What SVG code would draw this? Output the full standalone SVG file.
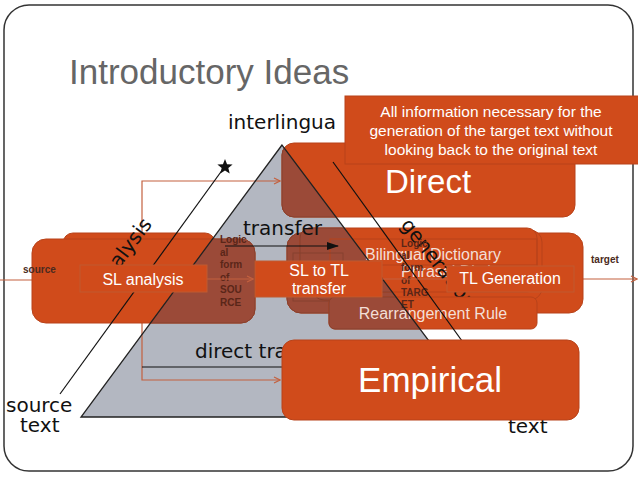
<svg xmlns="http://www.w3.org/2000/svg" width="638" height="479" viewBox="0 0 638 479">
<style>
.dv{font-family:"DejaVu Sans",sans-serif;font-size:20px;fill:#111}
.ls{font-family:"Liberation Sans",Arial,sans-serif}
.or{fill:#D04B1B;stroke:#B8431A;stroke-width:1}
.br{fill:#9B4A38;stroke:#86412F;stroke-width:1}
.wt{font-family:"Liberation Sans",Arial,sans-serif;fill:#fff;text-anchor:middle}
.lt{font-family:"Liberation Sans",Arial,sans-serif;fill:#F3DFD7;text-anchor:middle;font-size:16px}
.lg{font-family:"Liberation Sans",Arial,sans-serif;font-weight:bold;font-size:10px;fill:#5A2618}
.oline{fill:none;stroke:#C4613F;stroke-width:1.2}
.bline{fill:none;stroke:#111;stroke-width:1.2}
</style>
<defs>
<clipPath id="triClip"><polygon points="282,145 81,417 486,417"/></clipPath>
<marker id="chev" viewBox="0 0 8 8" refX="7" refY="4" markerWidth="8" markerHeight="8" orient="auto" markerUnits="userSpaceOnUse"><path d="M1,1 L7,4 L1,7" fill="none" stroke="#C4613F" stroke-width="1.2"/></marker>
<marker id="blk" viewBox="0 0 12 8" refX="11" refY="4" markerWidth="12" markerHeight="8" orient="auto" markerUnits="userSpaceOnUse"><path d="M0,0 L12,4 L0,8 z" fill="#111"/></marker>
</defs>

<rect x="4" y="5" width="629" height="466" rx="25" fill="#fff" stroke="#333" stroke-width="1.5"/>
<text class="ls" x="69" y="84" font-size="35" fill="#666">Introductory Ideas</text>
<text class="dv" x="228" y="129">interlingua</text>
<text class="dv" x="6" y="412">source</text>
<text class="dv" x="20" y="432">text</text>
<text class="dv" x="508" y="433">text</text>

<polygon id="triangle-fill" points="282,145 81,417 486,417" fill="#B3B7C1"/>

<g id="connectors-under">
<path class="oline" d="M142,237 V181 H280" marker-end="url(#chev)"/>
<path class="oline" d="M142,323 V380 H280" marker-end="url(#chev)"/>
<path class="oline" d="M0,280 H68" marker-end="url(#chev)"/>
<path class="oline" d="M574,279 H637" marker-end="url(#chev)"/>
</g>

<g id="node-direct">
<rect class="or" x="282" y="143" width="293" height="74" rx="12"/>
<rect class="br" x="282" y="143" width="293" height="74" rx="12" clip-path="url(#triClip)"/>
<text class="wt" x="428" y="193" font-size="33">Direct</text>
</g>
<g id="node-analysis-box">
<rect class="or" x="63" y="233" width="152" height="70" rx="10"/>
<rect class="br" x="63" y="233" width="152" height="70" rx="10" clip-path="url(#triClip)"/>
<rect class="or" x="32" y="239" width="223" height="84" rx="14"/>
<rect class="br" x="32" y="239" width="223" height="84" rx="14" clip-path="url(#triClip)"/>
</g>
<g id="node-transfer-box">
<rect class="or" x="287" y="233" width="225" height="80" rx="14"/>
<rect class="br" x="287" y="233" width="225" height="80" rx="14" clip-path="url(#triClip)"/>
</g>
<g id="node-generation-box">
<rect class="or" x="358" y="233" width="225" height="80" rx="14"/>
<rect class="br" x="358" y="233" width="225" height="80" rx="14" clip-path="url(#triClip)"/>
</g>
<g id="node-bilingual">
<rect class="or" x="312" y="230" width="230" height="70" rx="12"/>
<rect class="br" x="312" y="230" width="230" height="70" rx="12" clip-path="url(#triClip)"/>
<rect class="or" x="300" y="228" width="237" height="64" rx="10"/>
<rect class="br" x="300" y="228" width="237" height="64" rx="10" clip-path="url(#triClip)"/>
<rect x="330" y="239" width="207" height="26" fill="none" stroke="#B8431A" stroke-width="1"/>
<rect x="293" y="253" width="50" height="48" fill="none" stroke="#86412F" stroke-width="1" clip-path="url(#triClip)"/>
<text class="lt" x="433" y="260">Bilingual Dictionary</text>
<text class="lt" x="401" y="277" style="text-anchor:start">Phrasal Dictionary</text>
</g>

<g id="logical-source" class="lg">
<text x="220" y="243">Logic</text>
<text x="220" y="255.5">al</text>
<text x="220" y="268">form</text>
<text x="220" y="280.5">of</text>
<text x="220" y="293">SOU</text>
<text x="220" y="305.5">RCE</text>
</g>

<text class="dv" transform="translate(104,289) rotate(-53)">analysis</text>
<text class="dv" x="243" y="235">transfer</text>
<path class="bline" d="M225,246 H338" marker-end="url(#blk)"/>
<text class="dv" x="195" y="358">direct transfer</text>
<path class="bline" d="M142,367 H300"/>

<text class="dv" transform="translate(400,225) rotate(52)">generation</text>

<g id="node-rearrangement">
<rect class="or" x="329" y="297" width="208" height="32" rx="6"/>
<rect class="br" x="329" y="297" width="208" height="32" rx="6" clip-path="url(#triClip)"/>
<text class="lt" x="433" y="319" fill="#E9D6D0">Rearrangement Rule</text>
</g>

<g id="logical-target" class="lg">
<text x="401" y="247">Logic</text>
<text x="401" y="259">al</text>
<text x="401" y="271">form</text>
<text x="401" y="284">of</text>
<text x="401" y="296">TARG</text>
<text x="401" y="308">ET</text>
</g>

<g id="lines-over">
<polygon points="282,145 81,417 486,417" fill="none" stroke="#222" stroke-width="1.3"/>
<path class="bline" d="M333,162 L470,352"/>
<path class="bline" d="M60,394 L223,169"/>
<polygon points="225,159 227.06,164.17 232.61,164.53 228.33,168.08 229.7,173.47 225,170.5 220.3,173.47 221.67,168.08 217.39,164.53 222.94,164.17" fill="#111"/>
</g>

<g id="connectors">
<path class="oline" d="M207,279 H253" marker-end="url(#chev)"/>
<path class="oline" d="M382,279 H446"/>
</g>

<g id="node-sl-analysis">
<rect x="80" y="265" width="127" height="27" fill="#D04B1B" stroke="#C05A30" stroke-width="1"/>
<text class="wt" x="143" y="285" font-size="16">SL analysis</text>
</g>
<g id="node-sl-tl">
<rect x="255" y="261" width="127" height="36" fill="#D04B1B" stroke="#C05A30" stroke-width="1"/>
<text class="wt" x="319" y="276" font-size="16">SL to TL</text>
<text class="wt" x="319" y="294" font-size="16">transfer</text>
</g>
<g id="node-tl-generation">
<rect x="447" y="266" width="127" height="26" fill="#D04B1B" stroke="#C05A30" stroke-width="1"/>
<text class="wt" x="510" y="284" font-size="16">TL Generation</text>
</g>

<g id="node-empirical">
<rect x="282" y="340" width="297" height="80" rx="12" fill="#D04B1B" stroke="#B8431A"/>
<text class="wt" x="430" y="392" font-size="35">Empirical</text>
</g>

<g id="node-callout">
<rect x="345" y="96" width="294" height="68" fill="#D04B1B" stroke="#B8431A"/>
<text class="wt" x="491" y="117" font-size="15.5">All information necessary for the</text>
<text class="wt" x="491" y="136" font-size="15.5">generation of the target text without</text>
<text class="wt" x="491" y="155" font-size="15.5">looking back to the original text</text>
</g>

<text class="ls" x="23" y="273" font-size="10" font-weight="bold" fill="#4A2A20">source</text>
<text class="ls" x="591" y="263" font-size="10" font-weight="bold" fill="#4A2A20">target</text>
</svg>
